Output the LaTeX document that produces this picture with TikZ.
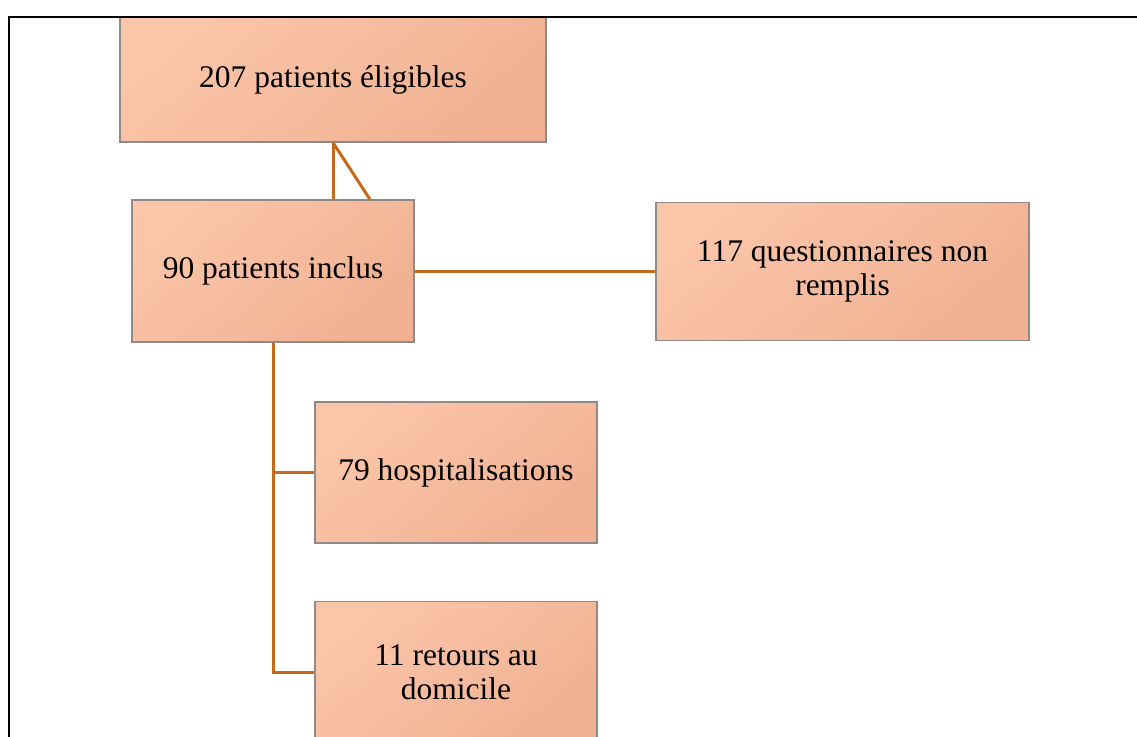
\documentclass[tikz,border=0pt]{standalone}
\usepackage{fontspec}
\setmainfont{Liberation Serif}
\newfontfamily\boxfont{Liberation Serif}
\usetikzlibrary{calc}
\definecolor{boxlight}{HTML}{FBC5A9}
\definecolor{boxdark}{HTML}{F0B091}
\definecolor{boxline}{HTML}{8E8A88}
\definecolor{conn}{HTML}{C46A1B}
\tikzset{
  flowbox/.style={rectangle, draw=boxline, line width=1.1pt, top color=boxlight, bottom color=boxdark, middle color=boxlight!55!boxdark, shading angle=40, align=center, inner sep=0pt, font=\boxfont\fontsize{31.5}{34}\selectfont},
  link/.style={draw=conn, line width=3pt}
}
\begin{document}
\begin{tikzpicture}[x=1pt,y=-1pt]
\useasboundingbox (0,0) rectangle (1137,736);
\node[flowbox, minimum width=426pt, minimum height=125pt] (a) at (333,79.5) {207 patients éligibles};
\node[flowbox, minimum width=282pt, minimum height=142pt] (b) at (273,271) {90 patients inclus};
\node[flowbox, minimum width=373pt, minimum height=138pt] (c) at (842.5,271.5) {117 questionnaires non\\remplis};
\node[flowbox, minimum width=282pt, minimum height=141pt] (d) at (456,472.5) {79 hospitalisations};
\node[flowbox, minimum width=282pt, minimum height=141pt] (e) at (456,672) {11 retours au\\domicile};
\coordinate (bdiag) at ($(b.north)+(97,0)$);
\draw[link] (a.south) -- (a.south |- b.north);
\draw[link] (a.south) -- (bdiag);
\draw[link] (b.east) -- (b.east -| c.west);
\draw[link] (b.south) -- (b.south |- e.west) -- (e.west);
\draw[link] (b.south |- d.west) -- (d.west);
\coordinate (frtl) at (9,17);
\coordinate (frtr) at (1140,17);
\coordinate (frbl) at (9,740);
\draw[black, line width=2pt] (frtr) -- (frtl) -- (frbl);
\end{tikzpicture}
\end{document}
